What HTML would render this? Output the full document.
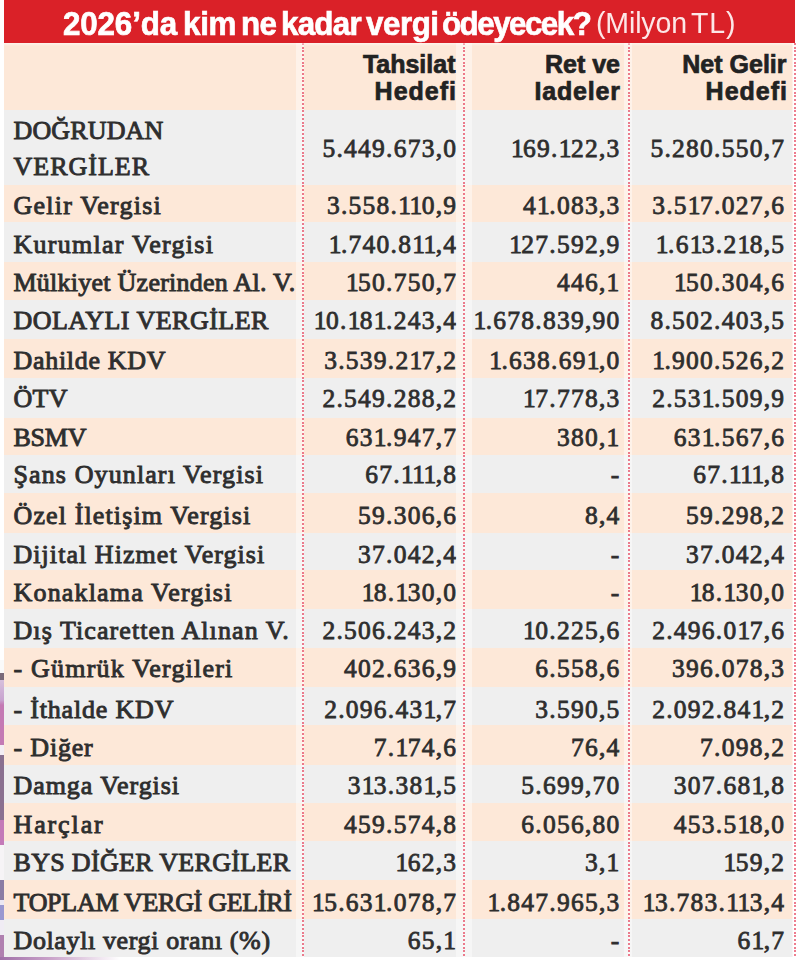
<!DOCTYPE html>
<html><head><meta charset="utf-8">
<style>
*{margin:0;padding:0;box-sizing:border-box}
html,body{width:800px;height:960px;overflow:hidden;background:#fff}
body{position:relative;font-family:"Liberation Serif",serif;color:#2e2e2e}
.title{position:absolute;left:4px;top:0;width:791px;height:43px;background:#da2128;color:#fff;font-family:"Liberation Sans",sans-serif;white-space:nowrap}
.tw{position:absolute;line-height:43px;transform-origin:0 0;white-space:nowrap}
.title .b{position:absolute;left:61px;top:2px;font-weight:bold;font-size:32px;line-height:43px;letter-spacing:-1.65px}
.title .l{position:absolute;left:595px;top:0;font-weight:normal;font-size:27px;line-height:43px;}
.row{position:absolute;left:4px;width:789px}
.p{background:#fde8d8}
.g{background:#efefef}
.c{position:absolute;top:0;white-space:nowrap}
.lab{left:9.5px;font-size:26px;top:2.5px;letter-spacing:0.65px;-webkit-text-stroke:0.9px #2e2e2e}
.n{text-align:right;font-size:25.5px;letter-spacing:1.24px;top:1px;-webkit-text-stroke:0.8px #2e2e2e}
.n i{font-style:normal;letter-spacing:-0.56px}
.hd{font-family:"Liberation Sans",sans-serif;font-weight:bold;font-size:25px;line-height:27px;text-align:right;color:#222;top:7.7px;-webkit-text-stroke:0.7px #222}
.band{position:absolute;top:43px;height:914px;background:rgba(255,255,255,.45)}
.dot{position:absolute;top:43px;height:915px;width:2px;background:repeating-linear-gradient(to bottom,rgba(230,70,95,.7) 0,rgba(230,70,95,.7) 1.9px,rgba(255,255,255,.35) 1.9px,rgba(255,255,255,.35) 3.75px)}
.strip{position:absolute;left:0;top:660px;width:4px;height:300px;filter:blur(0.7px);background:linear-gradient(to bottom,#fafafa 0,#fafafa 13px,#7a6a7a 13px,#7a6a7a 20px,#d6c0dc 20px,#c8a4d0 40px,#c47ab4 45px,#c47ab4 85px,#f4eef4 85px,#f4eef4 95px,#8a7090 95px,#8a7090 160px,#c47ab8 160px,#c47ab8 185px,#f6f4f6 185px,#f6f4f6 220px,#8a7ca4 220px,#8a7ca4 240px,#ece8f2 240px,#ece8f2 245px,#9a98d0 245px,#9a98d0 260px,#f0ecf4 260px,#f0ecf4 275px,#b080b0 275px,#b080b0 300px)}
.bstrip{position:absolute;left:0;top:957px;width:120px;height:3px;background:linear-gradient(to right,#a070a8,#c8a0c8 40%,rgba(255,255,255,0))}
</style></head><body>
<div class="title"><span class="tw" style="left:59.20px;top:1.5px;font-weight:bold;font-size:33px;transform:scaleX(0.95);-webkit-text-stroke:0.7px #fff;letter-spacing:-0.16px">2026’da</span><span class="tw" style="left:178.90px;top:1.5px;font-weight:bold;font-size:33px;transform:scaleX(0.95);-webkit-text-stroke:0.7px #fff;letter-spacing:-0.3px">kim</span><span class="tw" style="left:236.90px;top:1.5px;font-weight:bold;font-size:33px;transform:scaleX(0.95);-webkit-text-stroke:0.7px #fff;letter-spacing:-0.8px">ne</span><span class="tw" style="left:276.80px;top:1.5px;font-weight:bold;font-size:33px;transform:scaleX(0.95);-webkit-text-stroke:0.7px #fff;letter-spacing:-0.8px">kadar</span><span class="tw" style="left:362.20px;top:1.5px;font-weight:bold;font-size:33px;transform:scaleX(0.95);-webkit-text-stroke:0.7px #fff;letter-spacing:-0.5px">vergi</span><span class="tw" style="left:438.40px;top:1.5px;font-weight:bold;font-size:33px;transform:scaleX(0.95);-webkit-text-stroke:0.7px #fff;letter-spacing:-1.614px">ödeyecek?</span><span class="tw" style="left:591.50px;top:0.5px;font-weight:normal;color:rgba(255,246,246,.93);font-size:30px;transform:scaleX(0.95);letter-spacing:-0.15px">(Milyon</span><span class="tw" style="left:686.60px;top:0.5px;font-weight:normal;color:rgba(255,246,246,.93);font-size:30px;transform:scaleX(0.95);letter-spacing:0.9px">TL)</span></div>
<div class="row p" style="top:43px;height:67px"><div class="c hd" style="right:337.5px">Tahsilat<br><span style="letter-spacing:1px;margin-right:-1.5px">Hedefi</span></div><div class="c hd" style="right:173px">Ret ve<br><span style="letter-spacing:0.8px;margin-right:-0.8px">Iadeler</span></div><div class="c hd" style="right:6.5px">Net Gelir<br><span style="letter-spacing:1px;margin-right:-1.5px">Hedefi</span></div></div>
<div class="row g" style="top:110px;height:75px"><div class="c lab" style="line-height:36px;top:3.30px"><span style="letter-spacing:0.136px">DOĞRUDAN</span><br><span style="letter-spacing:0.993px">VERGİLER</span></div><div class="c n" style="top:0.70px;right:335.76px;line-height:75px">5.449.673,0</div><div class="c n" style="top:0.70px;right:172.51px;line-height:75px"><i>1</i>69.<i>1</i>22,3</div><div class="c n" style="top:0.70px;right:7.76px;line-height:75px">5.280.550,7</div></div>
<div class="row p" style="top:185px;height:37px"><div class="c lab" style="top:1.70px;line-height:37px;letter-spacing:1.217px">Gelir Vergisi</div><div class="c n" style="top:1.70px;right:335.76px;line-height:37px">3.558.<i>1</i><i>1</i>0,9</div><div class="c n" style="top:1.70px;right:172.51px;line-height:37px">4<i>1</i>.083,3</div><div class="c n" style="top:1.70px;right:7.76px;line-height:37px">3.5<i>1</i>7.027,6</div></div>
<div class="row g" style="top:222px;height:40px"><div class="c lab" style="top:2.75px;line-height:40px;letter-spacing:1.277px">Kurumlar Vergisi</div><div class="c n" style="top:2.75px;right:335.76px;line-height:40px"><i>1</i>.740.8<i>1</i><i>1</i>,4</div><div class="c n" style="top:2.75px;right:172.51px;line-height:40px"><i>1</i>27.592,9</div><div class="c n" style="top:2.75px;right:7.76px;line-height:40px"><i>1</i>.6<i>1</i>3.2<i>1</i>8,5</div></div>
<div class="row p" style="top:262px;height:38px"><div class="c lab" style="top:2.00px;line-height:38px;letter-spacing:0.250px">Mülkiyet Üzerinden Al. V.</div><div class="c n" style="top:2.00px;right:335.76px;line-height:38px"><i>1</i>50.750,7</div><div class="c n" style="top:2.00px;right:172.51px;line-height:38px">446,1</div><div class="c n" style="top:2.00px;right:7.76px;line-height:38px"><i>1</i>50.304,6</div></div>
<div class="row g" style="top:300px;height:39px"><div class="c lab" style="top:1.40px;line-height:39px;letter-spacing:0.477px">DOLAYLI VERGİLER</div><div class="c n" style="top:1.40px;right:335.76px;line-height:39px"><i>1</i>0.<i>1</i>8<i>1</i>.243,4</div><div class="c n" style="top:1.40px;right:172.51px;line-height:39px"><i>1</i>.678.839,90</div><div class="c n" style="top:1.40px;right:7.76px;line-height:39px">8.502.403,5</div></div>
<div class="row p" style="top:339px;height:39px"><div class="c lab" style="top:1.75px;line-height:39px;letter-spacing:0.690px">Dahilde KDV</div><div class="c n" style="top:1.75px;right:335.76px;line-height:39px">3.539.2<i>1</i>7,2</div><div class="c n" style="top:1.75px;right:172.51px;line-height:39px"><i>1</i>.638.69<i>1</i>,0</div><div class="c n" style="top:1.75px;right:7.76px;line-height:39px"><i>1</i>.900.526,2</div></div>
<div class="row g" style="top:378px;height:40px"><div class="c lab" style="top:1.00px;line-height:40px;letter-spacing:0.250px">ÖTV</div><div class="c n" style="top:1.00px;right:335.76px;line-height:40px">2.549.288,2</div><div class="c n" style="top:1.00px;right:172.51px;line-height:40px"><i>1</i>7.778,3</div><div class="c n" style="top:1.00px;right:7.76px;line-height:40px">2.53<i>1</i>.509,9</div></div>
<div class="row p" style="top:418px;height:37px"><div class="c lab" style="top:0.75px;line-height:37px;letter-spacing:-0.217px">BSMV</div><div class="c n" style="top:0.75px;right:335.76px;line-height:37px">63<i>1</i>.947,7</div><div class="c n" style="top:0.75px;right:172.51px;line-height:37px">380,1</div><div class="c n" style="top:0.75px;right:7.76px;line-height:37px">63<i>1</i>.567,6</div></div>
<div class="row g" style="top:455px;height:38px"><div class="c lab" style="top:1.40px;line-height:38px;letter-spacing:1.110px">Şans Oyunları Vergisi</div><div class="c n" style="top:1.40px;right:335.76px;line-height:38px">67.<i>1</i><i>1</i><i>1</i>,8</div><div class="c n" style="top:1.40px;right:172.51px;line-height:38px">-</div><div class="c n" style="top:1.40px;right:7.76px;line-height:38px">67.<i>1</i><i>1</i><i>1</i>,8</div></div>
<div class="row p" style="top:493px;height:40px"><div class="c lab" style="top:2.60px;line-height:40px;letter-spacing:1.120px">Özel İletişim Vergisi</div><div class="c n" style="top:2.60px;right:335.76px;line-height:40px">59.306,6</div><div class="c n" style="top:2.60px;right:172.51px;line-height:40px">8,4</div><div class="c n" style="top:2.60px;right:7.76px;line-height:40px">59.298,2</div></div>
<div class="row g" style="top:533px;height:37px"><div class="c lab" style="top:2.80px;line-height:37px;letter-spacing:1.050px">Dijital Hizmet Vergisi</div><div class="c n" style="top:2.80px;right:335.76px;line-height:37px">37.042,4</div><div class="c n" style="top:2.80px;right:172.51px;line-height:37px">-</div><div class="c n" style="top:2.80px;right:7.76px;line-height:37px">37.042,4</div></div>
<div class="row p" style="top:570px;height:39px"><div class="c lab" style="top:2.80px;line-height:39px;letter-spacing:1.175px">Konaklama Vergisi</div><div class="c n" style="top:2.80px;right:335.76px;line-height:39px"><i>1</i>8.<i>1</i>30,0</div><div class="c n" style="top:2.80px;right:172.51px;line-height:39px">-</div><div class="c n" style="top:2.80px;right:7.76px;line-height:39px"><i>1</i>8.<i>1</i>30,0</div></div>
<div class="row g" style="top:609px;height:39px"><div class="c lab" style="top:2.00px;line-height:39px;letter-spacing:1.085px">Dış Ticaretten Alınan V.</div><div class="c n" style="top:2.00px;right:335.76px;line-height:39px">2.506.243,2</div><div class="c n" style="top:2.00px;right:172.51px;line-height:39px"><i>1</i>0.225,6</div><div class="c n" style="top:2.00px;right:7.76px;line-height:39px">2.496.0<i>1</i>7,6</div></div>
<div class="row p" style="top:648px;height:39px"><div class="c lab" style="top:0.90px;line-height:39px;letter-spacing:1.203px">- Gümrük Vergileri</div><div class="c n" style="top:0.90px;right:335.76px;line-height:39px">402.636,9</div><div class="c n" style="top:0.90px;right:172.51px;line-height:39px">6.558,6</div><div class="c n" style="top:0.90px;right:7.76px;line-height:39px">396.078,3</div></div>
<div class="row g" style="top:687px;height:38px"><div class="c lab" style="top:3.60px;line-height:38px;letter-spacing:0.817px">- İthalde KDV</div><div class="c n" style="top:3.60px;right:335.76px;line-height:38px">2.096.43<i>1</i>,7</div><div class="c n" style="top:3.60px;right:172.51px;line-height:38px">3.590,5</div><div class="c n" style="top:3.60px;right:7.76px;line-height:38px">2.092.84<i>1</i>,2</div></div>
<div class="row p" style="top:725px;height:40px"><div class="c lab" style="top:2.80px;line-height:40px;letter-spacing:0.817px">- Diğer</div><div class="c n" style="top:2.80px;right:335.76px;line-height:40px">7.<i>1</i>74,6</div><div class="c n" style="top:2.80px;right:172.51px;line-height:40px">76,4</div><div class="c n" style="top:2.80px;right:7.76px;line-height:40px">7.098,2</div></div>
<div class="row g" style="top:765px;height:38px"><div class="c lab" style="top:2.20px;line-height:38px;letter-spacing:0.933px">Damga Vergisi</div><div class="c n" style="top:2.20px;right:335.76px;line-height:38px">3<i>1</i>3.38<i>1</i>,5</div><div class="c n" style="top:2.20px;right:172.51px;line-height:38px">5.699,70</div><div class="c n" style="top:2.20px;right:7.76px;line-height:38px">307.68<i>1</i>,8</div></div>
<div class="row p" style="top:803px;height:38px"><div class="c lab" style="top:2.60px;line-height:38px;letter-spacing:1.883px">Harçlar</div><div class="c n" style="top:2.60px;right:335.76px;line-height:38px">459.574,8</div><div class="c n" style="top:2.60px;right:172.51px;line-height:38px">6.056,80</div><div class="c n" style="top:2.60px;right:7.76px;line-height:38px">453.5<i>1</i>8,0</div></div>
<div class="row g" style="top:841px;height:39px"><div class="c lab" style="top:1.60px;line-height:39px;letter-spacing:0.321px">BYS DİĞER VERGİLER</div><div class="c n" style="top:1.60px;right:335.76px;line-height:39px"><i>1</i>62,3</div><div class="c n" style="top:1.60px;right:172.51px;line-height:39px">3,1</div><div class="c n" style="top:1.60px;right:7.76px;line-height:39px"><i>1</i>59,2</div></div>
<div class="row p" style="top:880px;height:39px"><div class="c lab" style="top:2.60px;line-height:39px;letter-spacing:-0.283px">TOPLAM VERGİ GELİRİ</div><div class="c n" style="top:2.60px;right:335.76px;line-height:39px"><i>1</i>5.63<i>1</i>.078,7</div><div class="c n" style="top:2.60px;right:172.51px;line-height:39px"><i>1</i>.847.965,3</div><div class="c n" style="top:2.60px;right:7.76px;line-height:39px"><i>1</i>3.783.<i>1</i><i>1</i>3,4</div></div>
<div class="row g" style="top:919px;height:38px"><div class="c lab" style="top:2.75px;line-height:38px;letter-spacing:0.623px">Dolaylı vergi oranı (%)</div><div class="c n" style="top:2.75px;right:335.76px;line-height:38px">65,1</div><div class="c n" style="top:2.75px;right:172.51px;line-height:38px">-</div><div class="c n" style="top:2.75px;right:7.76px;line-height:38px">6<i>1</i>,7</div></div>
<div class="band" style="left:296px;width:8px"></div>
<div class="band" style="left:456px;width:16px"></div>
<div class="band" style="left:624px;width:8px"></div>
<div class="band" style="left:792px;width:8px"></div>
<div class="dot" style="left:301.5px"></div>
<div class="dot" style="left:463px"></div>
<div class="dot" style="left:627.5px"></div>
<div class="dot" style="left:794px"></div>
<div style="position:absolute;left:4px;top:43px;width:789px;height:3px;background:linear-gradient(to bottom,rgba(255,255,255,.55),rgba(255,255,255,0))"></div>
<div class="strip"></div><div class="bstrip"></div>
</body></html>
